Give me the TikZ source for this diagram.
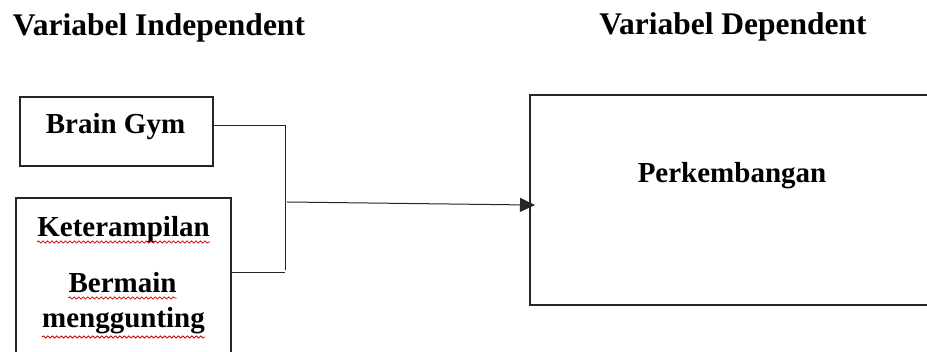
\documentclass[tikz,border=0pt]{standalone}
\usepackage{fontspec}
\setmainfont{Liberation Serif}
\usetikzlibrary{arrows.meta,decorations.pathmorphing}
\begin{document}
\begin{tikzpicture}[x=1pt,y=-1pt,
  box/.style={draw=black!85,line width=1.1pt,rectangle,inner sep=0pt},
  title/.style={anchor=base,inner sep=0pt,font=\fontsize{31.5}{36}\selectfont\bfseries},
  label/.style={anchor=base,inner sep=0pt,font=\fontsize{29}{33}\selectfont\bfseries},
  wire/.style={draw=black!85,line width=1pt},
  wavy/.style={draw=red!80!black,line width=0.8pt,decorate,
    decoration={snake,amplitude=1.1pt,segment length=4.5pt}}]
\useasboundingbox (0,0) rectangle (927,352);

% column headings
\node[title] (hind) at (159,36) {Variabel Independent};
\node[title] (hdep) at (733,35) {Variabel Dependent};

% independent variable boxes
\node[box,minimum width=193pt,minimum height=69pt] (bg) at (116.5,131.5) {};
\node[label] (bgt) at (115.5,134) {Brain Gym};

\node[box,minimum width=215pt,minimum height=200pt] (kb) at (123.5,298) {};
\node[label] (kt1) at (123.5,237) {Keterampilan};
\node[label] (kt2) at (122.5,293) {Bermain};
\node[label] (kt3) at (123.5,328) {menggunting};

% dependent variable box (runs past the right margin)
\node[box,minimum width=410pt,minimum height=210pt] (pk) at (735,200) {};
\node[label] (pkt) at (732,183) {Perkembangan};

% spell-check underlines
\draw[wavy] ([yshift=-5pt]kt1.base west) -- ([yshift=-5pt]kt1.base east);
\draw[wavy] ([yshift=-5pt]kt2.base west) -- ([yshift=-5pt]kt2.base east);
\draw[wavy] ([yshift=-9pt]kt3.base west) -- ([yshift=-9pt]kt3.base east);

% bracket joining the two independent variables
\coordinate (jtop) at (285,126);
\coordinate (jbot) at (285,273);
\draw[wire] (bg.east |- jtop) -- (jtop) -- (285,270);
\draw[wire] (kb.east |- jbot) -- (jbot);

% arrow into the dependent variable
\coordinate (aout) at (287,202);
\coordinate (ain) at (530,205);
\draw[wire,-{Triangle[length=15pt,width=14pt]},shorten >=-5pt] (aout) -- (ain);
\end{tikzpicture}
\end{document}
